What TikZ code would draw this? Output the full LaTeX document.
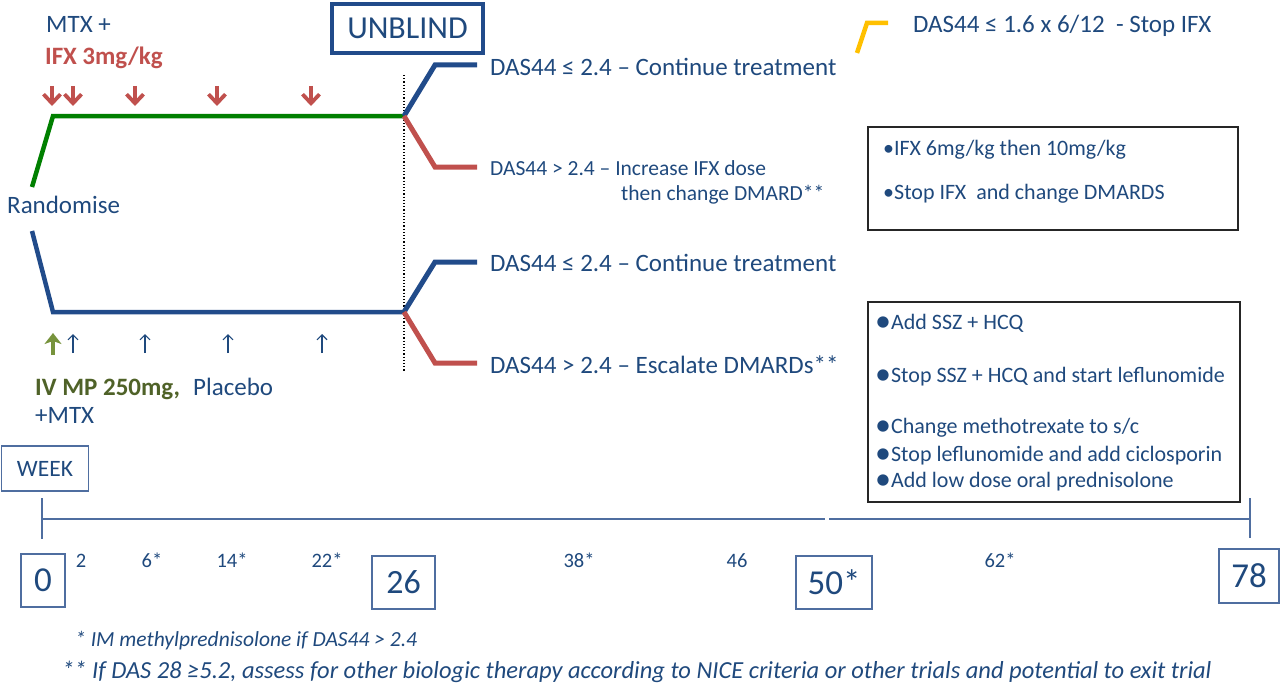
\documentclass[tikz,border=0pt]{standalone}
\usepackage{fontspec}
\setmainfont{Carlito}
\usetikzlibrary{arrows.meta}
\definecolor{dblue}{RGB}{31,73,125}
\definecolor{lblue}{RGB}{33,75,138}
\definecolor{dred}{RGB}{192,80,77}
\definecolor{dgreen}{RGB}{0,128,0}
\definecolor{olivea}{RGB}{119,147,60}
\definecolor{olivet}{RGB}{79,98,40}
\definecolor{yel}{RGB}{255,192,0}
\definecolor{tlc}{RGB}{79,110,160}
\newcommand{\fs}[1]{\fontsize{#1}{#1}\selectfont}
\newcommand{\bigbul}{\smash{{\fs{32}\raisebox{-0.08em}{•}}}}
\begin{document}
\begin{tikzpicture}[x=1pt,y=-1pt,
  txt/.style={inner sep=0pt,anchor=base west,text=dblue,font=\fs{25}},
  boxtxt/.style={inner sep=0pt,anchor=base west,text=dblue,font=\fs{22},text height=13pt,text depth=0pt},
  wk/.style={inner sep=0pt,anchor=base,text=dblue,font=\fs{20.5}},
  numbox/.style={draw=tlc,line width=1.4pt,text=dblue,inner sep=0pt,font=\fs{35}},
  foot/.style={inner sep=0pt,anchor=base west,text=dblue,font=\fs{21.5}\itshape},
  arm/.style={line width=4.5pt,line join=miter},
  branch/.style={line width=5pt,line join=miter},
  redarrow/.style={draw=dred,line width=3.8pt,-{Straight Barb[length=9pt,width=17pt]}},
  bluearrow/.style={draw=dblue,line width=1.1pt,-{Straight Barb[length=5pt,width=10pt]}},
  greenarrow/.style={draw=olivea,line width=4.5pt,-{Stealth[length=11pt,width=17pt,inset=3pt]}},
  infobox/.style={draw=black!85,line width=1.5pt,inner sep=0pt}
  ]
\useasboundingbox (0,0) rectangle (1280,685);

% top texts
\node[txt] (mtx) at (46,33) {MTX +};
\node[txt,text=dred,font=\fs{25}\bfseries] (ifx) at (45,65) {IFX 3mg/kg};
\node[txt] (rand) at (7,213) {Randomise};

% red infusion arrows
\foreach \x [count=\i] in {52,73,135,217,311}{
  \coordinate (rat\i) at (\x,86);
  \coordinate (rab\i) at (\x,106);
  \draw[redarrow] (rat\i) -- (rab\i);
}

% green arm
\coordinate (gs) at (32,187);
\coordinate (gc) at (53,116);
\coordinate (ge) at (404,116);
\draw[arm,dgreen] (gs) -- (gc) -- (ge);

% blue arm
\coordinate (bs) at (32,231);
\coordinate (bc) at (53,312);
\coordinate (be) at (404,312);
\draw[arm,lblue] (bs) -- (bc) -- (be);

% unblind dotted line
\coordinate (dt) at (404,75);
\coordinate (db) at (404,372);
\draw[black,line width=1.2pt,dotted] (dt) -- (db);

% unblind box
\node[draw=lblue,line width=4.5pt,minimum width=151pt,minimum height=49pt,inner sep=0pt,text=dblue,font=\fs{32}] (unb) at (407.5,28.5) {UNBLIND};

% upper branches
\coordinate (u1c) at (435,65);  \coordinate (u1e) at (477,65);
\coordinate (u2c) at (435,167); \coordinate (u2e) at (477,167);
\draw[branch,lblue] (ge) -- (u1c) -- (u1e);
\draw[branch,dred] (ge) -- (u2c) -- (u2e);
\node[txt] (cont1) at (490,75) {DAS44 ≤ 2.4 – Continue treatment};
\node[txt,font=\fs{21.5}] (inc) at (490,175) {DAS44 > 2.4 – Increase IFX dose};
\node[txt,font=\fs{21.5}] (then) at (621,200) {then change DMARD**};

% lower branches
\coordinate (l1c) at (435,262); \coordinate (l1e) at (477,262);
\coordinate (l2c) at (435,363); \coordinate (l2e) at (477,363);
\draw[branch,lblue] (be) -- (l1c) -- (l1e);
\draw[branch,dred] (be) -- (l2c) -- (l2e);
\node[txt] (cont2) at (490,271) {DAS44 ≤ 2.4 – Continue treatment};
\node[txt] (esc) at (490,373) {DAS44 > 2.4 – Escalate DMARDs**};

% yellow stop
\coordinate (ys) at (857,53);
\coordinate (yc) at (867,23);
\coordinate (ye) at (888,23);
\draw[branch,yel,line width=4.5pt] (ys) -- (yc) -- (ye);
\node[txt] (stop) at (913,33) {DAS44 ≤ 1.6 x 6/12\ \ - Stop IFX};

% info box 1
\node[infobox,minimum width=370pt,minimum height=103pt] (box1) at (1053,178.5) {};
\node[boxtxt] (b1a) at (883,155) {•IFX 6mg/kg then 10mg/kg};
\node[boxtxt] (b1b) at (883,199) {•Stop IFX\ \ and change DMARDS};

% info box 2
\node[infobox,minimum width=372pt,minimum height=200pt] (box2) at (1054,402) {};
\node[boxtxt] (b2a) at (875,329) {\bigbul Add SSZ + HCQ};
\node[boxtxt] (b2b) at (875,382) {\bigbul Stop SSZ + HCQ and start leflunomide};
\node[boxtxt] (b2c) at (875,433) {\bigbul Change methotrexate to s/c};
\node[boxtxt] (b2d) at (875,461) {\bigbul Stop leflunomide and add ciclosporin};
\node[boxtxt] (b2e) at (875,487) {\bigbul Add low dose oral prednisolone};

% lower arrows
\coordinate (gab) at (53,355); \coordinate (gat) at (53,333);
\draw[greenarrow] (gab) -- (gat);
\foreach \x [count=\i] in {73,145,228,322}{
  \coordinate (bab\i) at (\x,353);
  \coordinate (bat\i) at (\x,334);
  \draw[bluearrow] (bab\i) -- (bat\i);
}
\node[txt,text=olivet,font=\fs{25}\bfseries] (ivmp) at (35,395) {IV MP 250mg,};
\node[txt] (plac) at (193,395) {Placebo};
\node[txt] (pmtx) at (35,423) {+MTX};

% week box and timeline
\node[draw=tlc,line width=1.4pt,minimum width=87pt,minimum height=45pt,inner sep=0pt,text=dblue,font=\fs{23.5}] (week) at (45,468.5) {WEEK};
\coordinate (t0) at (42,519);
\coordinate (tg1) at (825,519);
\coordinate (tg2) at (829,519);
\coordinate (t78) at (1250,519);
\coordinate (k0a) at (42,498); \coordinate (k0b) at (42,539);
\coordinate (k1a) at (1250,498); \coordinate (k1b) at (1250,538);
\draw[tlc,line width=1.4pt] (t0) -- (tg1);
\draw[tlc,line width=1.4pt] (tg2) -- (t78);
\draw[tlc,line width=1.4pt] (k0a) -- (k0b);
\draw[tlc,line width=1.4pt] (k1a) -- (k1b);

\node[numbox,minimum width=44pt,minimum height=53pt] (w0) at (43,580.5) {0};
\node[numbox,minimum width=63pt,minimum height=53pt,font=\fs{34}] (w26) at (403.5,582.5) {26};
\node[numbox,minimum width=76pt,minimum height=53pt] (w50) at (834,582.5) {50*};
\node[numbox,minimum width=60pt,minimum height=54pt] (w78) at (1249,576) {78};
\node[wk] (w2) at (81,567) {2};
\node[wk] (w6) at (152,567) {6*};
\node[wk] (w14) at (232,567) {14*};
\node[wk] (w22) at (327,567) {22*};
\node[wk] (w38) at (579,567) {38*};
\node[wk] (w46) at (737,567) {46};
\node[wk] (w62) at (1000,567) {62*};

% footnotes
\node[foot] (f1) at (75,646) {* IM methylprednisolone if DAS44 > 2.4};
\node[foot,font=\fs{24.5}\itshape] (f2) at (62,678) {** If DAS 28 ≥5.2, assess for other biologic therapy according to NICE criteria or other trials and potential to exit trial};
\end{tikzpicture}
\end{document}
